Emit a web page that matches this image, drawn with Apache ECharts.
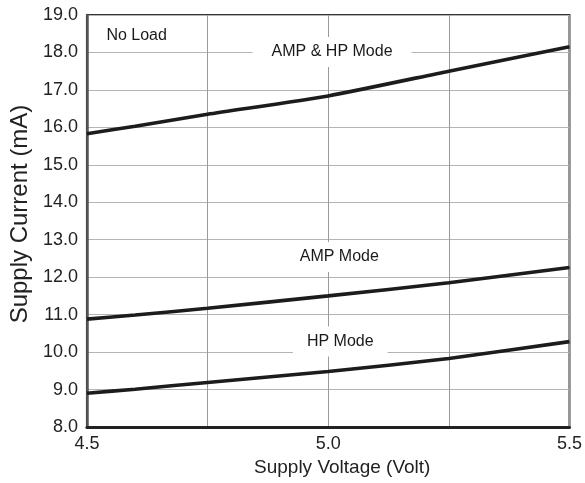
<!DOCTYPE html>
<html>
<head>
<meta charset="utf-8">
<script src="https://cdn.jsdelivr.net/npm/echarts@6/dist/echarts.min.js"></script>
<style>
html,body{margin:0;padding:0;background:#fff;}
#chart{width:585px;height:483px;}
</style>
</head>
<body>
<div id="chart"></div>
<script>
// Data
var voltage = [4.5, 4.6, 4.75, 5.0, 5.25, 5.5];
var ampHpMode = [15.83, 16.03, 16.35, 16.84, 17.5, 18.15];
var ampMode = [10.88, 10.99, 11.17, 11.5, 11.85, 12.26];
var hpMode = [8.9, 9.01, 9.19, 9.48, 9.83, 10.28];

var xLabeled = [4.5, 5.0, 5.5];
var yTicks = [8, 9, 10, 11, 12, 13, 14, 15, 16, 17, 18, 19];

// Annotation texts and their positions (data coordinates)
var noteText = ['No Load', 'AMP & HP Mode', 'AMP Mode', 'HP Mode'];
var noteX = [4.603, 5.008, 5.023, 5.025];
var noteY = [18.44, 18.01, 12.54, 10.28];
var noteBox = [false, true, true, true];

function pairs(xs, ys) {
  return xs.map(function (x, i) { return [x, ys[i]]; });
}

var chart = echarts.init(document.getElementById('chart'), null, {renderer: 'canvas'});

var lineStyle = {color: '#1c1c1c', width: 3.6};
var fontFamily = 'Liberation Sans, Arial, sans-serif';

var noteData = noteText.map(function (t, i) {
  return {
    value: [noteX[i], noteY[i]],
    name: t,
    label: noteBox[i] ? {
      backgroundColor: '#ffffff',
      padding: i === 1 ? [7, 19] : [7, 14]
    } : {}
  };
});

var option = {
  animation: false,
  backgroundColor: '#ffffff',
  grid: {
    left: 84, right: 15, top: 15, bottom: 56,
    show: true, borderColor: '#333', borderWidth: 2, backgroundColor: 'transparent'
  },
  xAxis: {
    type: 'value',
    min: 4.5, max: 5.5, interval: 0.25,
    name: 'Supply Voltage (Volt)',
    nameLocation: 'middle',
    nameGap: 29,
    nameTextStyle: {fontSize: 19, color: '#222', fontFamily: fontFamily, padding: [0, 0, 0, 28]},
    axisLine: {show: true, lineStyle: {color: '#222', width: 3}},
    axisTick: {show: false},
    axisLabel: {
      fontSize: 18, color: '#222', fontFamily: fontFamily, margin: 8,
      formatter: function (v) {
        for (var i = 0; i < xLabeled.length; i++) {
          if (Math.abs(v - xLabeled[i]) < 1e-6) return v.toFixed(1);
        }
        return '';
      }
    },
    splitLine: {show: true, lineStyle: {color: '#9a9a9a', width: 1}}
  },
  yAxis: {
    type: 'value',
    min: yTicks[0], max: yTicks[yTicks.length - 1], interval: 1,
    name: 'Supply Current (mA)',
    nameLocation: 'middle',
    nameGap: 50,
    nameTextStyle: {fontSize: 24, color: '#222', fontFamily: fontFamily, padding: [0, 0, 0, 14]},
    axisLine: {show: true, lineStyle: {color: '#555', width: 2.5}},
    axisTick: {show: false},
    axisLabel: {
      fontSize: 18, color: '#222', fontFamily: fontFamily, margin: 9,
      formatter: function (v) { return v.toFixed(1); }
    },
    splitLine: {show: true, lineStyle: {color: '#b4b4b4', width: 1}}
  },
  series: [
    {
      type: 'scatter',
      data: noteData,
      symbolSize: 0,
      z: 1,
      itemStyle: {opacity: 1},
      label: {
        show: true, position: 'inside', opacity: 1,
        formatter: function (p) { return p.name; },
        fontSize: 16, color: '#1a1a1a', fontFamily: fontFamily
      },
      emphasis: {disabled: true},
      silent: true
    },
    {type: 'line', data: pairs(voltage, ampHpMode), smooth: 0.2, showSymbol: false, lineStyle: lineStyle, z: 3},
    {type: 'line', data: pairs(voltage, ampMode), smooth: 0.2, showSymbol: false, lineStyle: lineStyle, z: 3},
    {type: 'line', data: pairs(voltage, hpMode), smooth: 0.2, showSymbol: false, lineStyle: lineStyle, z: 3}
  ]
};

chart.setOption(option);
</script>
</body>
</html>
